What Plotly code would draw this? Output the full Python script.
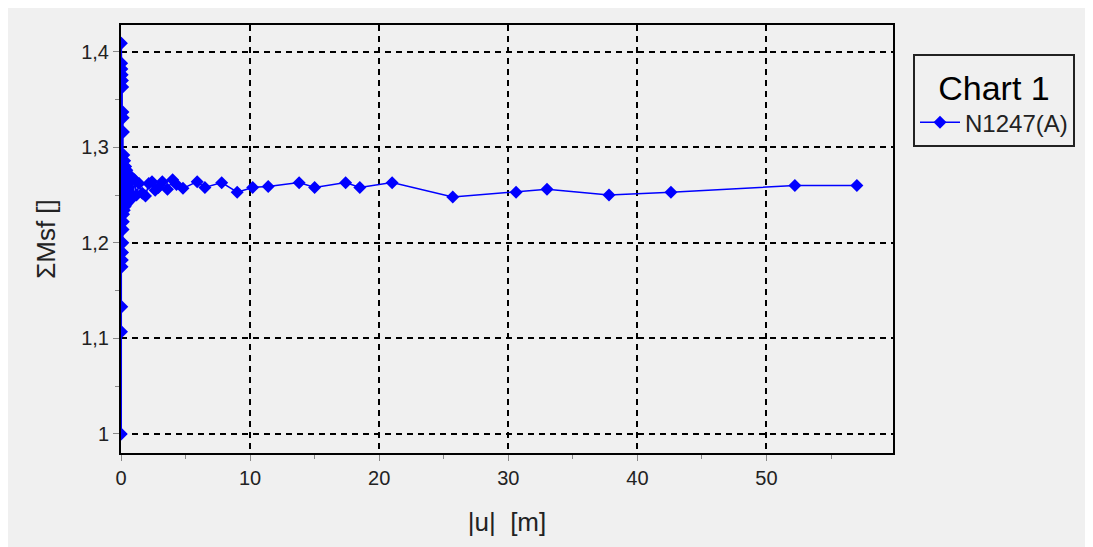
import plotly.graph_objects as go

series_name = "N1247(A)"
legend_title = "Chart 1"
x_title = "|u|  [m]"
y_title = "ΣMsf []"

u_vals = [0.02, 0.03, 0.04, 0.05, 0.06, 0.07, 0.08, 0.09, 0.10, 0.11, 0.12, 0.13,
          0.14, 0.15, 0.16, 0.17, 0.18, 0.19, 0.20, 0.22, 0.25, 0.28, 0.32, 0.36,
          0.40, 0.45, 0.50, 0.56, 0.62, 0.70, 0.78, 0.86, 0.95, 1.05, 1.20, 1.40,
          1.65, 1.90, 2.15, 2.40, 2.65, 2.90, 3.20, 3.60, 4.00, 4.30, 4.80, 5.90,
          6.50, 7.80, 9.00, 10.2, 11.4, 13.8, 15.0, 17.4, 18.5, 21.0, 25.7, 30.6,
          33.0, 37.8, 42.6, 52.2, 57.0]
msf_vals = [1.000, 1.409, 1.107, 1.388, 1.133, 1.382, 1.175, 1.376, 1.182, 1.370,
            1.190, 1.363, 1.200, 1.337, 1.214, 1.331, 1.222, 1.316, 1.230, 1.292,
            1.234, 1.286, 1.238, 1.280, 1.240, 1.276, 1.242, 1.272, 1.245, 1.270,
            1.246, 1.268, 1.248, 1.266, 1.250, 1.262, 1.252, 1.249, 1.262, 1.264,
            1.255, 1.258, 1.264, 1.256, 1.266, 1.261, 1.257, 1.264, 1.258, 1.263,
            1.253, 1.258, 1.259, 1.263, 1.258, 1.263, 1.258, 1.263, 1.248, 1.253,
            1.256, 1.250, 1.253, 1.260, 1.260]

x_tick_vals = [0, 10, 20, 30, 40, 50]
x_tick_text = ["0", "10", "20", "30", "40", "50"]
y_tick_vals = [1.0, 1.1, 1.2, 1.3, 1.4]
y_tick_text = ["1", "1,1", "1,2", "1,3", "1,4"]

blue = "#0000ff"
bg = "#f0f0f0"
txt = "#222222"
font_family = "Liberation Sans, Arial, sans-serif"

fig = go.Figure()
fig.add_trace(go.Scatter(
    x=u_vals, y=msf_vals, mode="lines+markers", name=series_name,
    line=dict(color=blue, width=1.5),
    marker=dict(symbol="diamond", size=10, color=blue),
))

axis_common = dict(
    showline=True, linecolor="black", linewidth=2, mirror=True,
    showgrid=True, gridcolor="black", gridwidth=1.5, griddash="6px,5px",
    ticks="outside", ticklen=6, tickcolor="#888888", tickwidth=1,
    zeroline=False, automargin=False,
    tickfont=dict(size=20, color=txt, family=font_family),
    title_font=dict(size=26, color=txt, family=font_family),
)

fig.update_xaxes(range=[0, 59.8], tickvals=x_tick_vals, ticktext=x_tick_text,
                 minor=dict(dtick=5, tick0=0, ticks="outside", ticklen=4,
                            tickcolor="#888888", showgrid=False),
                 title_text=x_title, title_standoff=25, **axis_common)
fig.update_yaxes(range=[0.980, 1.428], tickvals=y_tick_vals, ticktext=y_tick_text,
                 minor=dict(dtick=0.05, tick0=1.0, ticks="outside", ticklen=4,
                            tickcolor="#888888", showgrid=False),
                 title_text=y_title, title_standoff=18, **axis_common)

# page body has an 8px margin; plot area lands at 121..893 x 25..453
fig.update_layout(
    width=1085, height=539, autosize=False,
    margin=dict(l=113, r=200, t=17, b=94),
    paper_bgcolor=bg, plot_bgcolor=bg,
    font=dict(family=font_family, color=txt),
    showlegend=True,
    legend=dict(
        x=(913 - 121) / 772, y=(453 - 54) / 428, xanchor="left", yanchor="top",
        bgcolor=bg, bordercolor="#222222", borderwidth=2,
        font=dict(size=24, color=txt, family=font_family),
        title=dict(text=legend_title, side="top center",
                   font=dict(size=34, color="black", family=font_family)),
        itemwidth=40, entrywidth=150, entrywidthmode="pixels",
    ),
)

fig.write_html("out.html")
